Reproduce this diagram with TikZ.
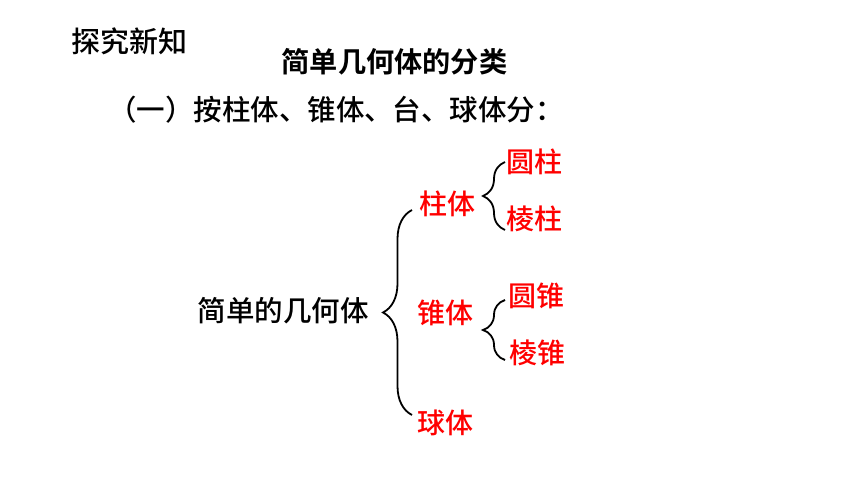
\documentclass[tikz,border=0pt]{standalone}
\usepackage{fontspec}
\usepackage{tikz}
\usetikzlibrary{decorations.pathreplacing}
\newfontfamily\cjk[UprightFont=* Medium, BoldFont=* Bold]{Noto Sans CJK SC}
\tikzset{
	headtext/.style={font=\cjk\fontsize{29}{34}\selectfont, text=black, inner sep=0pt},
	titletext/.style={font=\cjk\bfseries\fontsize{28.2}{34}\selectfont, text=black, inner sep=0pt},
	plaintext/.style={font=\cjk\fontsize{28.5}{34}\selectfont, text=black, inner sep=0pt},
	redtext/.style={font=\cjk\fontsize{28}{34}\selectfont, text=red, inner sep=0pt},
	bracebig/.style={decorate, decoration={brace, amplitude=29pt}, line width=1.8pt},
	bracesmall/.style={decorate, decoration={brace, amplitude=22pt}, line width=1.8pt}
}
\begin{document}
\begin{tikzpicture}[x=1pt,y=-1pt]
	\useasboundingbox[fill=white] (0,0) rectangle (860,484);
	\node[headtext] (tanjiu) at (129,41) {探究新知};
	\node[titletext] (title) at (394.5,62) {简单几何体的分类};
	\node[plaintext] (sub) at (336,110) {（一）按柱体、锥体、台、球体分：};

	\node[plaintext] (jihe) at (283,311) {简单的几何体};
	\node[redtext] (zhu) at (447,204) {柱体};
	\node[redtext] (zhui) at (445,313) {锥体};
	\node[redtext] (qiu) at (445,423) {球体};
	\node[redtext] (yuanzhu) at (534.5,162) {圆柱};
	\node[redtext] (lengzhu) at (534.5,219) {棱柱};
	\node[redtext] (yuanzhui) at (536.5,296) {圆锥};
	\node[redtext] (lengzhui) at (537.5,353) {棱锥};

	\coordinate (b1top) at (412,210);
	\coordinate (b1bot) at (412,415);
	\coordinate (b2top) at (505,162);
	\coordinate (b2bot) at (505,230);
	\coordinate (b3top) at (505,300);
	\coordinate (b3bot) at (505,360);
	\draw[bracebig] (b1bot) -- (b1top);
	\draw[bracesmall] (b2bot) -- (b2top);
	\draw[bracesmall] (b3bot) -- (b3top);
\end{tikzpicture}
\end{document}
